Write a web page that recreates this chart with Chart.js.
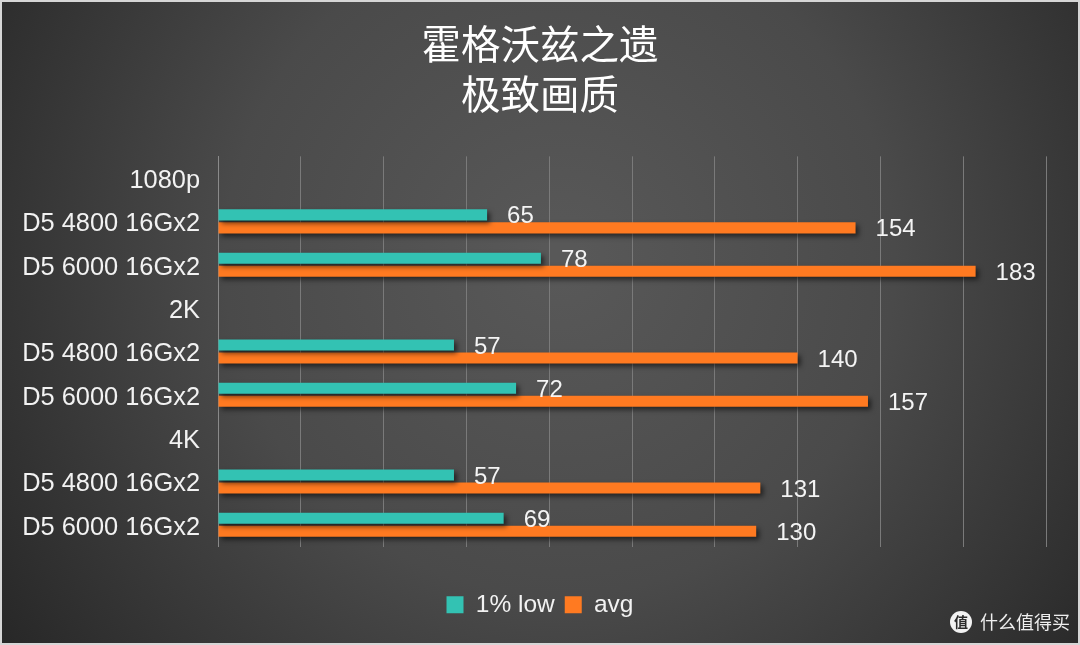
<!DOCTYPE html>
<html>
<head>
<meta charset="utf-8">
<script src="https://cdn.jsdelivr.net/npm/chart.js@4.4.0/dist/chart.umd.min.js"></script>
<style>
  html, body { margin: 0; padding: 0; background: #d8d8d8; }
  #wrap { width: 1080px; height: 645px; position: relative; }
  canvas { display: block; }
</style>
</head>
<body>
<div id="wrap"><canvas id="c" width="1080" height="645"></canvas></div>
<script>
const titleLines = ['霍格沃兹之遗', '极致画质'];
const categories = ['1080p', 'D5 4800 16Gx2', 'D5 6000 16Gx2', '2K', 'D5 4800 16Gx2', 'D5 6000 16Gx2', '4K', 'D5 4800 16Gx2', 'D5 6000 16Gx2'];
const lowValues = [null, 65, 78, null, 57, 72, null, 57, 69];
const avgValues = [null, 154, 183, null, 140, 157, null, 131, 130];
const seriesNames = ['1% low', 'avg'];
const axisMin = 0, axisMax = 200, axisStep = 20;
const watermark = '什么值得买';

const latin = '"Liberation Sans", Arial, sans-serif';
const cjk = '"Noto Sans CJK SC", "Noto Sans", sans-serif';

const bgPlugin = {
  id: 'bg',
  afterLayout(chart) {
    const shift = 17;
    [chart.titleBlock, chart.legend].forEach(b => {
      if (!b) return;
      b.left += shift;
      b.right += shift;
    });
  },
  beforeDraw(chart) {
    const ctx = chart.ctx, w = chart.width, h = chart.height;
    ctx.save();
    const g = ctx.createRadialGradient(560, 260, 20, 560, 260, 720);
    g.addColorStop(0, '#585858');
    g.addColorStop(0.45, '#4a4a4a');
    g.addColorStop(1, '#232323');
    ctx.fillStyle = g;
    ctx.fillRect(0, 0, w, h);
    ctx.restore();
  },
  afterDraw(chart) {
    const ctx = chart.ctx, w = chart.width, h = chart.height;
    ctx.save();
    ctx.fillStyle = '#f2f2f2';
    ctx.beginPath();
    ctx.arc(961, 622, 11, 0, Math.PI * 2);
    ctx.fill();
    ctx.fillStyle = '#2a2a2a';
    ctx.font = 'bold 14px ' + cjk;
    ctx.textAlign = 'center';
    ctx.textBaseline = 'middle';
    ctx.fillText('值', 961, 622);
    ctx.fillStyle = '#eeeeee';
    ctx.font = '18px ' + cjk;
    ctx.textAlign = 'left';
    ctx.fillText(watermark, 980, 622);
    ctx.strokeStyle = '#d6d6d6';
    ctx.lineWidth = 2;
    ctx.strokeRect(1, 1, w - 2, h - 2);
    ctx.restore();
  }
};

const shadowPlugin = {
  id: 'shadow',
  beforeDatasetsDraw(chart) {
    const ctx = chart.ctx;
    ctx.save();
    ctx.shadowColor = 'rgba(0,0,0,0.55)';
    ctx.shadowBlur = 5;
    ctx.shadowOffsetX = 3;
    ctx.shadowOffsetY = 3;
  },
  afterDatasetsDraw(chart) {
    chart.ctx.restore();
  }
};

const labelPlugin = {
  id: 'vlabels',
  afterDatasetsDraw(chart) {
    const ctx = chart.ctx;
    ctx.save();
    ctx.fillStyle = '#f4f4f4';
    ctx.font = '24px ' + latin;
    ctx.textAlign = 'left';
    ctx.textBaseline = 'middle';
    chart.data.datasets.forEach((ds, i) => {
      const meta = chart.getDatasetMeta(i);
      meta.data.forEach((bar, j) => {
        const v = ds.data[j];
        if (v === null || v === undefined) return;
        ctx.fillText(String(v), bar.x + 20, bar.y + 2);
      });
    });
    ctx.restore();
  }
};

new Chart(document.getElementById('c'), {
  type: 'bar',
  data: {
    labels: categories,
    datasets: [
      { label: seriesNames[0], data: lowValues, backgroundColor: '#33c2b3', borderWidth: 0, categoryPercentage: 0.6, barPercentage: 0.85 },
      { label: seriesNames[1], data: avgValues, backgroundColor: '#ff7a21', borderWidth: 0, categoryPercentage: 0.6, barPercentage: 0.85 }
    ]
  },
  options: {
    indexAxis: 'y',
    responsive: false,
    animation: false,
    layout: { padding: { top: 0, right: 34, bottom: 18, left: 0 } },
    scales: {
      x: {
        min: axisMin, max: axisMax,
        ticks: { display: false, stepSize: axisStep },
        grid: { color: '#7a7a7a', lineWidth: 1, drawTicks: false },
        border: { display: false },
        afterFit(scale) { scale.height = 36; }
      },
      y: {
        grid: { display: false, drawTicks: false },
        border: { display: true, color: '#8a8a8a', width: 1 },
        ticks: { color: '#f2f2f2', font: { family: latin, size: 25.4 }, padding: 18, autoSkip: false, labelOffset: 3 },
        afterFit(scale) { scale.width = 218; }
      }
    },
    plugins: {
      title: {
        display: true,
        text: titleLines,
        color: '#ffffff',
        font: { family: cjk, size: 39.5, weight: 'normal', lineHeight: 1.27 },
        padding: { top: 19, bottom: 37 }
      },
      legend: {
        position: 'bottom',
        labels: { color: '#f2f2f2', font: { family: latin, size: 24.5 }, boxWidth: 17, boxHeight: 17, padding: 10 }
      },
      tooltip: { enabled: false }
    }
  },
  plugins: [bgPlugin, shadowPlugin, labelPlugin]
});
</script>
</body>
</html>
